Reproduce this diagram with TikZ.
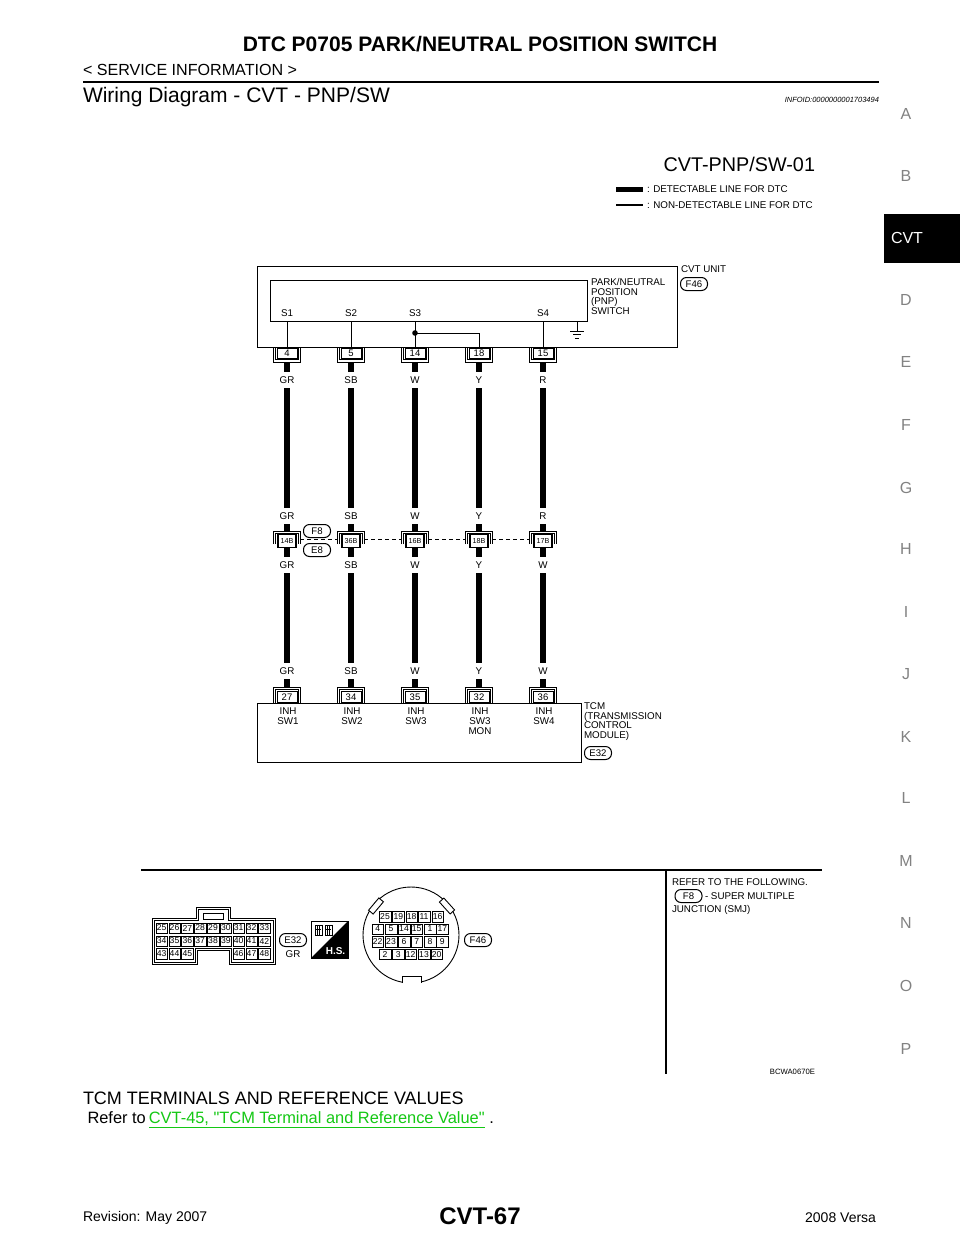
\documentclass[tikz,border=0pt]{standalone}
\usepackage{fontspec}
\setmainfont[Ligatures=TeXOff]{Liberation Sans}
\definecolor{lnk}{RGB}{20,200,20}
\definecolor{tabgray}{RGB}{130,130,130}
\newcommand{\fsz}[1]{\fontsize{#1}{#1}\selectfont}
\tikzset{
  txt/.style={inner sep=0pt,outer sep=0pt,font=\fsz{9.8},align=left},
  wlabel/.style={inner sep=0pt,outer sep=0pt,font=\fsz{9.8},minimum height=16pt,minimum width=12pt},
  pinbox/.style={draw,line width=.9pt,fill=white,inner sep=0pt,minimum width=20pt,minimum height=10.5pt,font=\fsz{9.5}},
  midbox/.style={draw,line width=1.7pt,fill=white,inner sep=0pt,minimum width=18pt,minimum height=13pt,font=\fsz{7.2}},
  pill/.style={draw,line width=1pt,rounded corners=6pt,fill=white,inner sep=0pt,minimum width=27pt,minimum height=13pt,font=\fsz{9.6}},
  heavy/.style={line width=6pt},
  stub/.style={line width=6pt},
  thin wire/.style={line width=1pt},
  cell/.style={draw,line width=.5pt,inner sep=0pt,minimum width=11.5pt,minimum height=10.5pt,font=\fsz{8.6}},
  side/.style={inner sep=0pt,text=tabgray,font=\fsz{16}}
}
\begin{document}
\begin{tikzpicture}[x=1pt,y=-1pt]
\useasboundingbox (0,0) rectangle (960,1242);
\fill[white] (0,0) rectangle (960,1242);
% page header
\node[txt,font=\fsz{21}\bfseries] (title) at (480,44) {DTC P0705 PARK/NEUTRAL POSITION SWITCH};
\node[txt,font=\fsz{16.1},anchor=west] (svc) at (83,70) {< SERVICE INFORMATION >};
\draw[line width=2.6pt] (83,82) -- (879,82);
\node[txt,font=\fsz{21},anchor=west] (sect) at (83,97) {Wiring Diagram - CVT - PNP/SW};
\node[txt,font=\fsz{7.5}\itshape,anchor=east] (info) at (879,100) {INFOID:0000000001703494};
% side index
\fill[black] (884,214) rectangle (960,263);
\node[inner sep=0pt,text=white,font=\fsz{16}] (cvt) at (907,238) {CVT};
\foreach \l/\y in {A/114,B/176,D/300,E/362,F/425,G/488,H/549,I/612,J/674,K/737,L/798,M/861,N/923,O/986,P/1049}
  \node[side] (side\l) at (906,\y) {\l};
% legend
\node[txt,font=\fsz{19.8},anchor=east] (code) at (815,164) {CVT-PNP/SW-01};
\coordinate (la) at (616,189); \coordinate (lb) at (643,189);
\coordinate (lc) at (616,205); \coordinate (ld) at (643,205);
\draw[line width=5pt] (la) -- (lb);
\draw[line width=2.6pt] (lc) -- (ld);
\node[txt,anchor=west] (leg1) at (647,189) {: DETECTABLE LINE FOR DTC};
\node[txt,anchor=west] (leg2) at (647,205) {: NON-DETECTABLE LINE FOR DTC};
% CVT unit
\node[draw,line width=1.3pt,inner sep=0pt,minimum width=420pt,minimum height=81pt,anchor=north west] (unit) at (257,266) {};
\node[draw,line width=1.3pt,inner sep=0pt,minimum width=317pt,minimum height=41pt,anchor=north west] (pnp) at (270,280) {};
\node[txt,anchor=west] (cvtunit) at (681,269) {CVT UNIT};
\node[pill] (F46a) at (694,284) {F46};
\node[txt,anchor=north west,font={\fontsize{9.8}{9.6}\selectfont}] (pnptxt) at (591,278.5) {PARK/NEUTRAL\\POSITION\\(PNP)\\SWITCH};
% columns: upper pins, labels, middle connectors, lower pins
\foreach \i/\x/\up/\mid/\low/\ca/\cb in {1/287/4/14B/27/GR/GR,2/351/5/36B/34/SB/SB,3/415/14/16B/35/W/W,4/479/18/18B/32/Y/Y,5/543/15/17B/36/R/W}{
  \draw[line width=.9pt] (\x-11.5,347) -- (\x-11.5,359.5) -- (\x+11.5,359.5) -- (\x+11.5,347);
  \draw[line width=.9pt] (\x-13.5,347) -- (\x-13.5,362) -- (\x+13.5,362) -- (\x+13.5,347);
  \node[pinbox] (u\i) at (\x,353.5) {\up};
  \node[wlabel] (a\i) at (\x,380) {\ca};
  \node[wlabel] (b\i) at (\x,516) {\ca};
  \draw[line width=.9pt] (\x-13.5,544) -- (\x-13.5,531.5) -- (\x+13.5,531.5) -- (\x+13.5,544);
  \draw[line width=.9pt] (\x-11.5,544) -- (\x-11.5,533.5) -- (\x+11.5,533.5) -- (\x+11.5,544);
  \node[midbox] (m\i) at (\x,541) {\mid};
  \node[wlabel] (c\i) at (\x,565) {\cb};
  \node[wlabel] (d\i) at (\x,671) {\cb};
  \draw[line width=.9pt] (\x-13.5,703) -- (\x-13.5,687.5) -- (\x+13.5,687.5) -- (\x+13.5,703);
  \draw[line width=.9pt] (\x-11.5,703) -- (\x-11.5,689.5) -- (\x+11.5,689.5) -- (\x+11.5,703);
  \node[pinbox] (l\i) at (\x,697) {\low};
  \draw[stub] ([yshift=-3.5pt]u\i.south) -- (a\i.north);
}
\foreach \i in {1,...,5}{
  \draw[heavy] (a\i.south) -- (b\i.north);
  \draw[stub] (b\i.south) -- ([yshift=3pt]m\i.north);
  \draw[stub] (m\i.south) -- (c\i.north);
  \draw[heavy] (c\i.south) -- (d\i.north);
  \draw[stub] (d\i.south) -- ([yshift=4.5pt]l\i.north);
}
% S labels
\foreach \i/\x/\s in {1/287/S1,2/351/S2,3/415/S3,5/543/S4}{
  \node[txt] (s\i) at (\x,313) {\s};
  \coordinate (t\i) at (\x,321);
  \draw[thin wire] (t\i) -- (\x,347);
}
\coordinate (jn) at (415,333);
\coordinate (jt) at (479,333);
\coordinate (jb) at (479,347);
\fill (jn) circle (2.8pt);
\draw[thin wire] (jn) -- (jt) -- (jb);
% ground
\coordinate (g0) at (577,321); \coordinate (g1) at (577,331);
\draw[thin wire] (g0) -- (g1);
\draw[thin wire] (570,331) -- (584,331);
\draw[thin wire] (573,334.5) -- (581,334.5);
\draw[thin wire] (575,338) -- (579,338);
% dashed bus
\foreach \i/\j in {1/2,2/3,3/4,4/5}
  \draw[line width=1.2pt,dash pattern=on 4pt off 3pt] ([shift={(3.5pt,1.5pt)}]m\i.east) -- ([shift={(-3.5pt,1.5pt)}]m\j.west);
\node[pill] (F8) at (317,531) {F8};
\node[pill] (E8) at (317,550) {E8};
% TCM
\node[draw,line width=1.3pt,fill=none,inner sep=0pt,minimum width=324pt,minimum height=59pt,anchor=north west] (tcm) at (257,703) {};
\foreach \i/\x/\tx in {1/288/INH\\SW1,2/352/INH\\SW2,3/416/INH\\SW3,4/480/INH\\SW3\\MON,5/544/INH\\SW4}
  \node[inner sep=0pt,align=center,anchor=north,font={\fontsize{9.8}{10}\selectfont}] (inh\i) at (\x,707.5) {\tx};
\node[txt,anchor=north west,font={\fontsize{9.8}{9.7}\selectfont}] (tcmtxt) at (584,702.5) {TCM\\(TRANSMISSION\\CONTROL\\MODULE)};
\node[pill] (E32a) at (598,753) {E32};
% separators
\coordinate (h1) at (141,870); \coordinate (h2) at (822,870);
\coordinate (v1) at (666,870); \coordinate (v2) at (666,1074);
\draw[line width=1.4pt] (h1) -- (h2);
\draw[line width=1.4pt] (v1) -- (v2);
\node[txt,anchor=west] (refer) at (672,882) {REFER TO THE FOLLOWING.};
\node[pill] (F8b) at (688.5,896) {F8};
\node[txt,anchor=west] (smj1) at (705,896) {- SUPER MULTIPLE};
\node[txt,anchor=west] (smj2) at (672,909.5) {JUNCTION (SMJ)};
\node[txt,font=\fsz{7.7},anchor=east] (code2) at (815,1072) {BCWA0670E};
% E32 connector face
\draw[line width=.8pt] (152,918) -- (196,918) -- (196,907) -- (230,907) -- (230,918) -- (275,918) -- (275,964) -- (229,964) -- (229,950) -- (197,950) -- (197,964) -- (152,964) -- cycle;
\draw[line width=.6pt] (154,920) -- (198,920) -- (198,909) -- (228,909) -- (228,920) -- (273,920) -- (273,962) -- (231,962) -- (231,948) -- (195,948) -- (195,962) -- (154,962) -- cycle;
\draw[line width=.8pt] (203,913) rectangle (223,919);
\foreach \t/\c in {25/0,26/1,27/2,28/3,29/4,30/5,31/6,32/7,33/8}
  \node[cell] (ea\t) at (161.7+12.83*\c,928) {\t};
\foreach \t/\c in {34/0,35/1,36/2,37/3,38/4,39/5,40/6,41/7,42/8}
  \node[cell] (eb\t) at (161.7+12.83*\c,941) {\t};
\foreach \t/\c in {43/0,44/1,45/2,46/6,47/7,48/8}
  \node[cell] (ec\t) at (161.7+12.83*\c,953.5) {\t};
\node[pill] (E32b) at (293,940) {E32};
\node[txt] (gr) at (293,954.5) {GR};
% H.S. icon
\draw[line width=.7pt,fill=white] (311,921) rectangle (348,958);
\fill[black] (348,921) -- (348,958) -- (311,958) -- cycle;
\node[inner sep=0pt,text=white,font=\fsz{10}\bfseries] (hs) at (335.5,951) {H.S.};
\foreach \x in {315,325}{
  \draw[line width=.9pt] (\x,925) rectangle (\x+7,935);
  \draw[line width=.7pt] (\x+1,929) -- (\x+6,929) (\x+2.3,925) -- (\x+2.3,935) (\x+4.7,925) -- (\x+4.7,935);
}
% F46 connector face
\draw[line width=.9pt] (411,935) circle (48pt);
\fill[white] (402,975) rectangle (421,984);
\draw[line width=.9pt] (402,983) -- (402,976) -- (421,976) -- (421,983);
\draw[line width=.9pt,fill=white,rotate around={50:(376,906)}] (368,903) rectangle (384,909);
\draw[line width=.9pt,fill=white,rotate around={-48:(447,906)}] (439,903) rectangle (455,909);
\foreach \t/\x in {25/735,19/775,18/815,11/852,16/893}
  \node[cell] (fa\t) at (140+\x/3,890+80/3) {\t};
\foreach \t/\x in {4/713,5/753,14/792,15/830,1/870,17/907}
  \node[cell] (fb\t) at (140+\x/3,890+117/3) {\t};
\foreach \t/\x in {22/713,23/753,6/792,7/830,8/870,9/907}
  \node[cell] (fc\t) at (140+\x/3,890+155/3) {\t};
\foreach \t/\x in {2/735,3/775,12/812,13/852,20/890}
  \node[cell] (fd\t) at (140+\x/3,890+193/3) {\t};
\node[pill] (F46b) at (478,940) {F46};
% footer text
\node[txt,font=\fsz{18},anchor=west] (tcmref) at (83,1098) {TCM TERMINALS AND REFERENCE VALUES};
\node[txt,font=\fsz{16.4},anchor=west] (refer2) at (87.5,1119.5) {Refer to\hspace{-1.5pt} {\color{lnk}\underline{CVT-45, "TCM Terminal and Reference Value"}} .};
\node[txt,font=\fsz{24}\bfseries] (page) at (480,1216) {CVT-67};
\node[txt,font=\fsz{14},anchor=west] (rev) at (83,1218) {Revision: May 2007};
\node[txt,font=\fsz{14},anchor=east] (ver) at (876,1218) {2008 Versa};
\end{tikzpicture}
\end{document}
